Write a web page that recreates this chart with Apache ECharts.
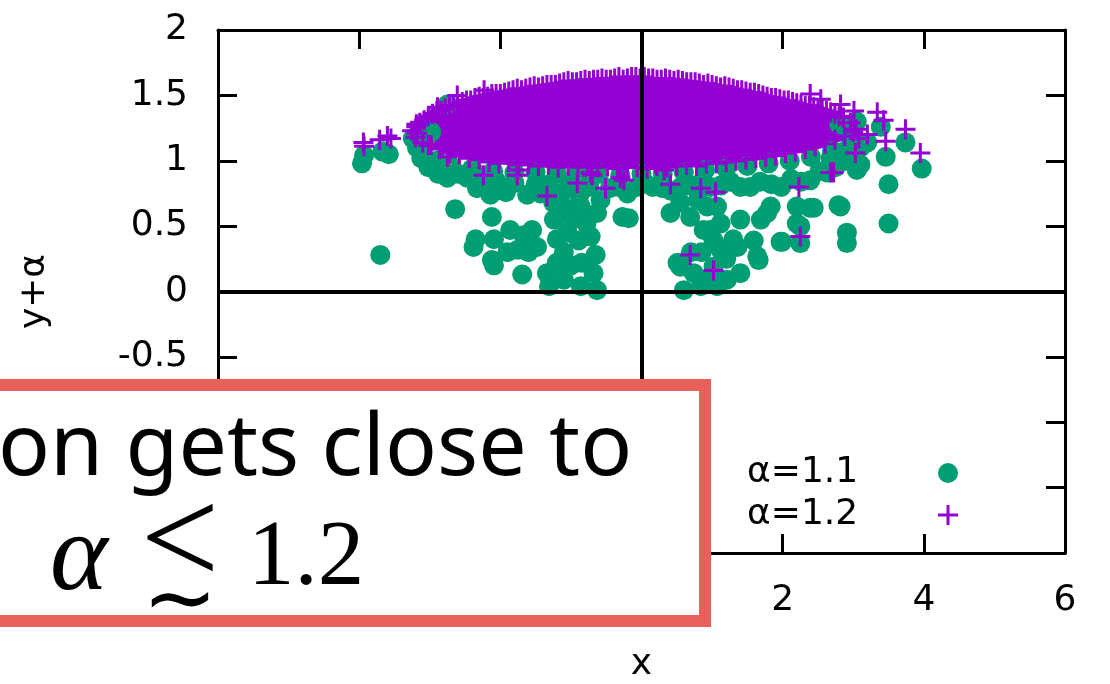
<!DOCTYPE html>
<html>
<head>
<meta charset="utf-8">
<script src="https://cdn.jsdelivr.net/npm/echarts@6/dist/echarts.min.js"></script>
<style>
  html, body { margin: 0; padding: 0; background: #fff; }
  #chart { width: 1110px; height: 684px; }
</style>
</head>
<body>
<div id="chart"></div>
<script>
// ---- data ---------------------------------------------------------------
const seriesNames = ['α=1.1', 'α=1.2'];
const xTicks = { min: -6, max: 6, interval: 2 };
const yTicks = { min: -2, max: 2, interval: 0.5 };
const axisNames = { x: 'x', y: 'y+α' };

// α = 1.1 samples
const alpha11 = [
  [-3.96,0.98],[-3.93,1.04],[-3.67,1.07],[-3.58,1.05],[-3.70,0.28],[-2.64,0.63],
  [-3.24,1.17],[-3.18,1.10],[-3.12,1.02],[-3.02,0.95],[-2.98,1.22],[-2.75,1.43],
  [-3.05,1.18],[-2.90,1.00],[-2.85,0.95],
  [-2.88,0.90],[-2.75,0.87],[-2.60,0.90],[-2.47,0.87],[-2.33,0.79],[-2.26,0.86],
  [-2.14,0.74],[-2.05,0.84],[-1.92,0.76],[-1.80,0.83],[-1.62,0.74],[-1.50,0.82],
  [-1.43,0.75],[-1.30,0.82],[-1.15,0.74],[-1.02,0.81],[-0.88,0.74],[-0.74,0.80],
  [-0.58,0.70],[-0.45,0.79],[-0.32,0.80],[-0.20,0.75],[-0.06,0.80],[0.05,0.83],
  [0.16,0.80],[0.30,0.79],[0.42,0.77],[0.56,0.80],[0.70,0.81],[0.84,0.83],
  [0.98,0.80],[1.12,0.81],[1.26,0.84],[1.40,0.80],[1.54,0.80],[1.68,0.84],
  [1.84,0.82],[1.98,0.80],[2.12,0.86],[2.26,0.84],[2.39,0.85],[2.52,0.92],
  [2.63,0.91],[2.68,1.02],[2.87,1.07],[2.98,1.15],[3.05,0.93],[3.05,1.30],
  [3.10,0.97],[3.20,1.14],[3.39,1.26],[3.46,1.03],[3.74,1.14],[3.97,0.94],
  [3.50,0.82],[3.50,0.52],[2.80,1.28],[2.95,1.22],[3.10,1.10],[2.90,1.00],[2.75,0.95],
  [-2.70,0.96],[-2.40,0.94],[-2.10,0.92],[-1.80,0.91],[-1.50,0.91],[-1.20,0.90],
  [-0.90,0.90],[-0.60,0.90],[-0.30,0.89],[0.00,0.90],[0.30,0.90],[0.60,0.91],
  [0.90,0.93],[1.20,0.94],[1.50,0.96],[1.80,0.98],[2.10,1.00],[2.40,1.03],[2.70,1.08],
  [-2.12,0.57],[-2.38,0.34],[-2.35,0.40],[-2.12,0.24],[-2.09,0.40],[-2.09,0.20],
  [-1.86,0.47],[-1.67,0.43],[-1.69,0.13],[-1.90,0.30],[-1.75,0.32],[-1.60,0.30],
  [-1.48,0.34],[-1.55,0.47],[-1.24,0.55],[-1.20,0.40],[-1.10,0.30],[-1.34,0.14],
  [-1.31,0.04],[-1.20,0.22],[-1.10,0.09],[-1.00,0.20],[-0.86,0.04],[-0.85,0.22],
  [-0.63,0.01],[-0.68,0.14],[-0.65,0.28],[-0.72,0.42],[-0.89,0.39],[-1.05,0.45],
  [-0.98,0.55],[-0.86,0.65],[-0.63,0.60],[-0.78,0.52],[-1.08,0.64],[-1.25,0.68],
  [-0.27,0.57],[-0.18,0.56],
  [0.41,0.60],[0.55,0.68],[0.69,0.57],[0.93,0.65],[0.80,0.70],[0.88,0.47],
  [1.02,0.39],[1.12,0.52],[1.07,0.65],[1.40,0.55],[1.69,0.55],[1.83,0.65],
  [1.78,0.60],[2.20,0.65],[2.39,0.64],[2.44,0.64],[2.20,0.52],[2.25,0.50],
  [1.97,0.38],[2.25,0.37],[2.82,0.65],[2.79,0.66],[2.91,0.45],[2.91,0.37],
  [0.51,0.22],[0.55,0.19],[0.60,0.01],[0.84,0.04],[1.07,0.04],[1.21,0.09],
  [1.40,0.14],[1.36,0.34],[1.59,0.39],[1.64,0.27],[1.66,0.24],[1.12,0.32],
  [0.74,0.14],[1.02,0.19],[0.98,0.47],[1.30,0.40],[0.85,0.30],[1.20,0.25],
  [0.95,0.10],[0.70,0.30],[1.99,0.38]
];

// α = 1.2 samples (edge and stray points of the cloud)
const alpha12 = [
  // upper rim
  [-3.25,1.23],[-3.14,1.29],[-3.02,1.34],[-2.90,1.38],[-2.78,1.40],[-2.66,1.42],
  [-2.54,1.45],[-2.42,1.46],[-2.30,1.49],[-2.18,1.49],[-2.06,1.51],[-1.94,1.52],
  [-1.82,1.54],[-1.70,1.54],[-1.58,1.56],[-1.46,1.56],[-1.34,1.58],[-1.22,1.58],
  [-1.10,1.60],[-0.98,1.60],[-0.86,1.61],[-0.74,1.61],[-0.62,1.62],[-0.50,1.62],
  [-0.38,1.63],[-0.26,1.62],[-0.14,1.64],[-0.02,1.63],[0.10,1.63],[0.22,1.62],
  [0.34,1.63],[0.46,1.61],[0.58,1.61],[0.70,1.60],[0.82,1.59],[0.94,1.59],
  [1.06,1.57],[1.18,1.57],[1.30,1.55],[1.42,1.54],[1.54,1.52],[1.66,1.51],
  [1.78,1.49],[1.90,1.48],[2.02,1.46],[2.14,1.45],[2.26,1.43],[2.38,1.42],
  [2.50,1.40],[2.62,1.38],[2.74,1.36],[2.86,1.33],[2.96,1.29],[3.04,1.24],[3.08,1.17],
  [-3.19,1.26],[-3.08,1.31],[-2.96,1.36],[-2.84,1.38],[-2.72,1.42],[-2.60,1.43],
  [-2.48,1.46],[-2.36,1.48],[-2.24,1.48],[-2.12,1.51],[-2.00,1.51],[-1.88,1.53],
  [-1.76,1.55],[-1.64,1.55],[-1.52,1.57],[-1.40,1.57],[-1.28,1.58],[-1.16,1.59],
  [-1.04,1.61],[-0.92,1.60],[-0.80,1.62],[-0.68,1.62],[-0.56,1.63],[-0.44,1.62],
  [-0.32,1.64],[-0.20,1.63],[-0.08,1.64],[0.04,1.64],[0.16,1.63],[0.28,1.62],
  [0.40,1.62],[0.52,1.62],[0.64,1.60],[0.76,1.60],[0.88,1.58],[1.00,1.58],
  [1.12,1.56],[1.24,1.56],[1.36,1.54],[1.48,1.53],[1.60,1.52],[1.72,1.50],
  [1.84,1.48],[1.96,1.47],[2.08,1.46],[2.20,1.44],[2.32,1.42],[2.44,1.41],
  [2.56,1.39],[2.68,1.37],[2.80,1.34],
  // strays around the rim
  [-2.61,1.50],[-2.23,1.54],[-2.89,1.41],[-3.19,1.28],[-3.18,1.21],[-3.02,1.12],
  [-2.75,1.03],[-3.93,1.11],[-3.94,1.14],[-3.60,1.19],[-3.71,1.16],[-3.55,1.17],
  [2.39,1.51],[2.54,1.47],[2.82,1.43],[3.01,1.38],[3.34,1.37],[3.43,1.31],
  [3.74,1.24],[3.46,1.15],[3.03,1.06],[3.95,1.06],[2.72,0.91],[3.20,1.20],
  // lower rim
  [-3.20,1.18],[-3.10,1.14],[-2.98,1.12],[-2.86,1.09],[-2.72,1.06],[-2.58,1.05],
  [-2.44,1.02],[-2.30,1.01],[-2.16,0.99],[-2.02,0.98],[-1.88,0.99],[-1.74,0.97],
  [-1.60,0.97],[-1.46,0.96],[-1.32,0.97],[-1.18,0.95],[-1.04,0.96],[-0.90,0.95],
  [-0.76,0.96],[-0.62,0.95],[-0.48,0.96],[-0.34,0.94],[-0.20,0.95],[-0.06,0.95],
  [0.08,0.94],[0.22,0.96],[0.36,0.95],[0.50,0.96],[0.64,0.97],[0.78,0.96],
  [0.92,0.98],[1.06,0.98],[1.20,0.99],[1.34,1.00],[1.48,1.01],[1.62,1.02],
  [1.76,1.03],[1.90,1.04],[2.04,1.06],[2.18,1.07],[2.32,1.09],[2.46,1.11],
  [2.60,1.13],[2.74,1.16],[2.88,1.19],[3.00,1.22],
  // strays below the cloud
  [-2.24,0.89],[-1.76,0.89],[-1.34,0.73],[-0.91,0.83],[-0.70,0.89],[-0.51,0.79],
  [-0.30,0.87],[-0.25,0.85],[-1.76,0.93],[-0.72,0.91],[0.32,0.93],[0.41,0.82],
  [0.84,0.79],[1.05,0.76],[2.23,0.80],[2.68,0.91],[2.25,0.42],[0.69,0.28],
  [1.02,0.16],[0.20,0.98]
];

// outline of the saturated α = 1.2 core, where the markers overlap completely
const alpha12Core = [
  [-3.30,1.23],[-3.20,1.32],[-2.99,1.39],[-2.75,1.445],[-2.28,1.515],[-1.81,1.56],
  [-1.05,1.62],[-0.58,1.64],[0.00,1.645],[0.55,1.63],[1.02,1.60],[1.50,1.545],
  [1.97,1.49],[2.44,1.43],[2.82,1.36],[3.05,1.28],[3.10,1.22],
  [2.96,1.175],[2.49,1.085],[1.78,1.01],[0.84,0.955],[0.00,0.94],[-1.29,0.945],
  [-2.24,0.985],[-2.71,1.04],[-2.99,1.10],[-3.20,1.16]
];

// ---- styling ------------------------------------------------------------
const GREEN = '#009E73';
const PURPLE = '#9400D3';
const PLUS = 'path://M8.5,0h3v8.5h8.5v3h-8.5v8.5h-3v-8.5h-8.5v-3h8.5z';
const FONT = '"DejaVu Sans", "Liberation Sans", sans-serif';
const SERIF = '"Liberation Serif", "DejaVu Serif", serif';

function frameAxis(pos, range, labels, extra) {
  return Object.assign({
    type: 'value', position: pos,
    min: range.min, max: range.max, interval: range.interval,
    axisLine: { show: true, onZero: false, lineStyle: { color: '#000', width: 3 } },
    axisTick: { show: true, inside: true, length: 19, lineStyle: { color: '#000', width: 3 } },
    axisLabel: { show: labels, color: '#000', fontSize: 36, fontFamily: FONT, margin: 30 },
    splitLine: { show: false }
  }, extra || {});
}

const chart = echarts.init(document.getElementById('chart'), null, { renderer: 'canvas' });

chart.setOption({
  animation: false,
  backgroundColor: '#fff',
  grid: { left: 218, right: 45, top: 30, bottom: 131, show: false, outerBoundsMode: 'none' },
  xAxis: [
    frameAxis('bottom', xTicks, true, {
      name: axisNames.x, nameLocation: 'middle', nameGap: 94,
      nameTextStyle: { color: '#000', fontSize: 36, fontFamily: FONT }
    }),
    frameAxis('top', xTicks, false)
  ],
  yAxis: [
    frameAxis('left', yTicks, true, {
      name: axisNames.y, nameLocation: 'middle', nameGap: 165,
      nameTextStyle: { color: '#000', fontSize: 36, fontFamily: FONT }
    }),
    frameAxis('right', yTicks, false)
  ],
  legend: {
    orient: 'vertical', left: 742, top: 450, align: 'right',
    itemWidth: 20, itemHeight: 20, itemGap: 6, selectedMode: false,
    data: [
      { name: seriesNames[0], icon: 'circle' },
      { name: seriesNames[1], icon: PLUS }
    ],
    formatter: '{t|{name}}',
    textStyle: {
      color: '#000', fontSize: 36, fontFamily: FONT,
      rich: { t: { width: 186, height: 38, align: 'left', fontSize: 36, fontFamily: FONT, color: '#000' } }
    }
  },
  series: [
    {
      name: seriesNames[0], type: 'scatter', z: 2,
      symbol: 'circle', symbolSize: 20,
      itemStyle: { color: GREEN, opacity: 1 },
      emphasis: { disabled: true },
      data: alpha11,
      markLine: {
        silent: true, symbol: ['none', 'none'], label: { show: false },
        lineStyle: { color: '#000', width: 4, type: 'solid' },
        emphasis: { disabled: true },
        data: [{ xAxis: 0 }, { yAxis: 0 }]
      }
    },
    {
      name: seriesNames[1], type: 'scatter', z: 3,
      symbol: PLUS, symbolSize: 20,
      itemStyle: { color: PURPLE, opacity: 1 },
      emphasis: { disabled: true },
      data: alpha12
    },
    {
      name: seriesNames[1], type: 'custom', z: 2, silent: true,
      data: alpha12Core,
      encode: { x: 0, y: 1 },
      renderItem: function (params, api) {
        if (params.dataIndex !== 0) return null;
        const pts = alpha12Core.map(function (p) { return api.coord(p); });
        return { type: 'polygon', shape: { points: pts }, style: { fill: PURPLE } };
      }
    }
  ],
  graphic: [
    {
      type: 'rect', z: 100,
      shape: { x: -30, y: 385, width: 735, height: 236 },
      style: { fill: '#fff', stroke: '#E9605A', lineWidth: 12 }
    },
    {
      type: 'text', z: 101, x: -2, y: 450,
      style: { text: 'on gets close to', fill: '#000', fontSize: 86,
               fontFamily: '"Noto Sans", sans-serif', verticalAlign: 'middle' }
    },
    {
      type: 'text', z: 101, x: 50, y: 560,
      style: { text: 'α', fill: '#000', fontSize: 110, fontStyle: 'italic',
               fontFamily: SERIF, verticalAlign: 'middle' }
    },
    {
      type: 'text', z: 101, x: 180, y: 547,
      style: { text: '<', fill: '#000', fontSize: 140, align: 'center',
               fontFamily: SERIF, verticalAlign: 'middle' }
    },
    {
      type: 'text', z: 101, x: 180, y: 605,
      style: { text: '∼', fill: '#000', fontSize: 90, align: 'center',
               fontFamily: '"DejaVu Sans", serif', verticalAlign: 'middle' }
    },
    {
      type: 'text', z: 101, x: 248, y: 560,
      style: { text: '1.2', fill: '#000', fontSize: 93,
               fontFamily: SERIF, verticalAlign: 'middle' }
    }
  ]
});
</script>
</body>
</html>
